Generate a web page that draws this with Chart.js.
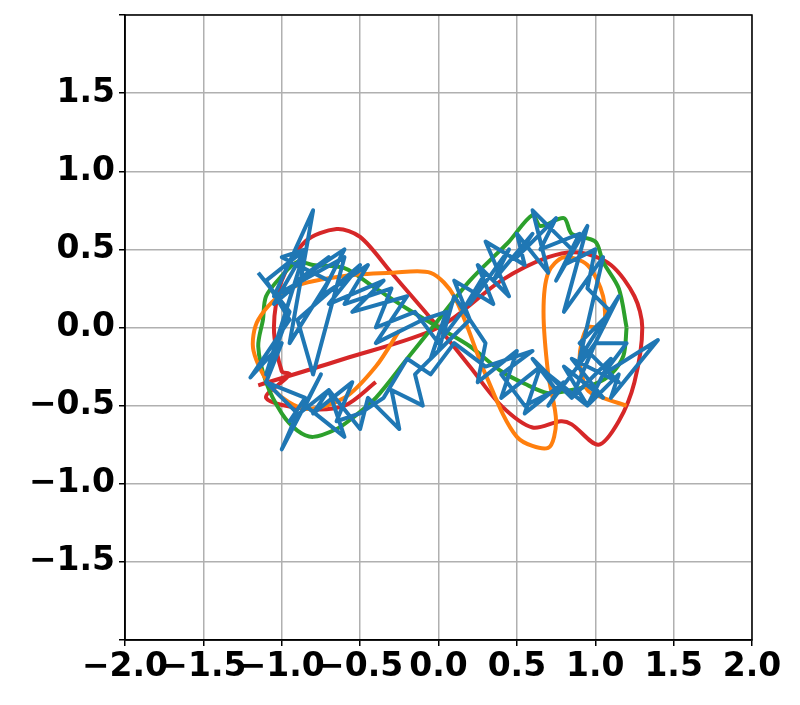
<!DOCTYPE html>
<html><head><script src="https://cdn.jsdelivr.net/npm/chart.js@4"></script>
<style>body{margin:0;background:#fff}</style></head>
<body><canvas id="c" width="800" height="705"></canvas>
<script>
const xTicks=[-2,-1.5,-1,-0.5,0,0.5,1,1.5,2];
const blueX=[-1.15,-0.95,-1.1,-0.85,-1.0,-0.7,-0.95,-0.8,-1.05,-0.6,-0.8,-0.9,-0.5,-0.7,-0.35,-0.55,-0.2,-0.4,-0.1,0.05,-0.05,0.2,0.1,0.35,0.25,0.45,0.3,0.55,0.5,0.7,0.6,0.85,0.75,0.95,0.8,1.05,0.9,1.15,1.0,1.2,1.05,1.4,1.1,1.15,0.95,1.1,0.85,1.0,0.7,0.8,0.55,0.65,0.4,0.5,0.25,0.3,0.1,0.0,-0.15,-0.1,-0.3,-0.25,-0.45,-0.5,-0.7,-0.6,-0.85,-0.75,-1.0,-0.9,-1.1,-1.0,-1.2,-0.95,-1.1,-0.85,-1.05,-0.7,-0.9,-0.6,-0.75,-0.45,-0.6,-0.3,-0.4,-0.15,0.0,0.15,0.3,0.2,0.45,0.35,0.6,0.5,0.75,0.65,0.9,0.8,1.0,0.95,1.1,0.9,1.15,0.85,1.05,0.8,0.95,0.7,0.85,0.6,0.75,0.55,0.4,0.6,0.3,0.1,-0.05,-0.2,-0.35,-0.5,-0.65,-0.55,-0.8,-0.7,-0.95,-0.85,-1.1];
const blueY=[0.35,0.1,-0.3,0.5,0.45,0.3,-0.1,0.75,0.2,0.45,-0.3,0.05,0.4,0.15,0.3,0.1,0.2,-0.1,0.05,0.1,-0.2,0.05,0.3,0.15,0.4,0.2,0.55,0.4,0.6,0.35,0.75,0.5,0.3,0.65,0.1,0.45,-0.2,0.2,-0.1,-0.1,-0.3,-0.08,-0.45,-0.3,-0.5,-0.2,-0.45,-0.1,-0.5,-0.35,-0.55,-0.25,-0.45,-0.15,-0.35,-0.1,0.2,-0.15,-0.3,-0.5,-0.4,-0.65,-0.45,-0.65,-0.4,-0.7,-0.5,-0.3,-0.78,-0.55,-0.35,-0.1,-0.32,0.05,0.3,0.5,0.15,0.45,0.3,0.5,0.2,0.4,0.15,0.25,0.0,0.1,-0.1,0.1,0.35,0.15,0.5,0.3,0.6,0.45,0.7,0.5,0.6,0.4,0.5,0.25,0.1,-0.1,-0.35,-0.2,-0.45,-0.25,-0.5,-0.3,-0.45,-0.2,-0.4,-0.5,-0.3,-0.15,-0.25,-0.1,-0.3,-0.2,-0.45,-0.55,-0.6,-0.35,-0.55,-0.4,-0.6,-0.45,-0.35];
const greenX=[1.2,1.15,1.05,1.0,0.85,0.8,0.65,0.6,0.45,0.4,0.2,0.0,-0.2,-0.4,-0.55,-0.65,-0.8,-0.9,-1.0,-1.1,-1.15,-1.12,-1.1,-1.0,-0.9,-0.8,-0.6,-0.4,-0.2,0.0,0.2,0.4,0.55,0.7,0.85,1.0,1.1,1.18,1.2];
const greenY=[0.0,0.25,0.42,0.55,0.6,0.7,0.65,0.72,0.55,0.5,0.3,0.05,-0.2,-0.45,-0.58,-0.65,-0.7,-0.66,-0.55,-0.35,-0.12,0.05,0.2,0.33,0.42,0.4,0.38,0.25,0.12,0.0,-0.12,-0.28,-0.36,-0.42,-0.4,-0.36,-0.3,-0.18,0.0];
const orangeX=[-0.25,-0.4,-0.6,-0.85,-1.05,-1.18,-1.15,-0.95,-0.6,-0.3,-0.05,0.1,0.3,0.5,0.7,0.75,0.7,0.67,0.7,0.8,0.95,1.05,1.05,0.95,0.9,0.95,1.05,1.2];
const orangeY=[-0.02,-0.25,-0.45,-0.52,-0.4,-0.15,0.05,0.25,0.33,0.35,0.35,0.2,-0.3,-0.7,-0.77,-0.6,-0.3,0.1,0.35,0.45,0.4,0.2,0.0,0.0,-0.2,-0.4,-0.45,-0.5];
const redX=[-1.15,-0.6,0.0,0.4,0.7,0.9,1.1,1.25,1.3,1.25,1.15,1.02,0.85,0.78,0.6,0.4,0.2,0.0,-0.3,-0.5,-0.65,-0.85,-1.0,-1.05,-1.0,-0.95,-1.1,-0.85,-0.6,-0.4];
const redY=[-0.37,-0.2,0.0,0.3,0.45,0.48,0.4,0.2,0.0,-0.35,-0.6,-0.75,-0.62,-0.6,-0.64,-0.5,-0.25,0.0,0.35,0.58,0.63,0.55,0.3,0.0,-0.28,-0.3,-0.45,-0.52,-0.5,-0.35];
const pts=(xs,ys)=>xs.map((x,i)=>({x,y:ys[i]}));
const ds=(xs,ys,c,t)=>({data:pts(xs,ys),borderColor:c,showLine:true,pointRadius:0,borderWidth:4,tension:t,fill:false,borderJoinStyle:'round'});
const F={family:'DejaVu Sans',size:33,weight:'bold'};
new Chart(document.getElementById('c'),{type:'scatter',
data:{datasets:[ds(blueX,blueY,'#1f77b4',0),ds(orangeX,orangeY,'#ff7f0e',0.3),ds(greenX,greenY,'#2ca02c',0.3),ds(redX,redY,'#d62728',0.3)]},
options:{responsive:false,animation:false,layout:{padding:{top:15,right:48}},
plugins:{legend:{display:false},tooltip:{enabled:false}},
scales:{
x:{min:-2,max:2,afterBuildTicks:a=>{a.ticks=xTicks.map(v=>({value:v}))},afterFit:a=>{a.height=65},
 grid:{color:'#b0b0b0',lineWidth:1.5,tickLength:6,tickColor:'#000'},border:{color:'#000',width:1.5},
 ticks:{color:'#000',font:F,padding:2,maxRotation:0,autoSkip:false,callback:v=>v.toFixed(1).replace('-','\u2212')}},
y:{min:-2,max:2,afterBuildTicks:a=>{a.ticks=xTicks.map(v=>({value:v}))},afterFit:a=>{a.width=125;a.paddingTop=0;a.paddingBottom=0;},
 grid:{color:'#b0b0b0',lineWidth:1.5,tickLength:6,tickColor:'#000'},border:{color:'#000',width:1.5},
 ticks:{color:'#000',font:F,padding:4,callback:v=>Math.abs(v)==2?'':v.toFixed(1).replace('-','\u2212')}}
}},
plugins:[{id:'frame',afterDraw(c){const a=c.chartArea,x=c.ctx;x.save();x.strokeStyle='#000';x.lineWidth=1.5;x.strokeRect(a.left,a.top,a.right-a.left,a.bottom-a.top);x.restore();}}]
});
</script></body></html>
